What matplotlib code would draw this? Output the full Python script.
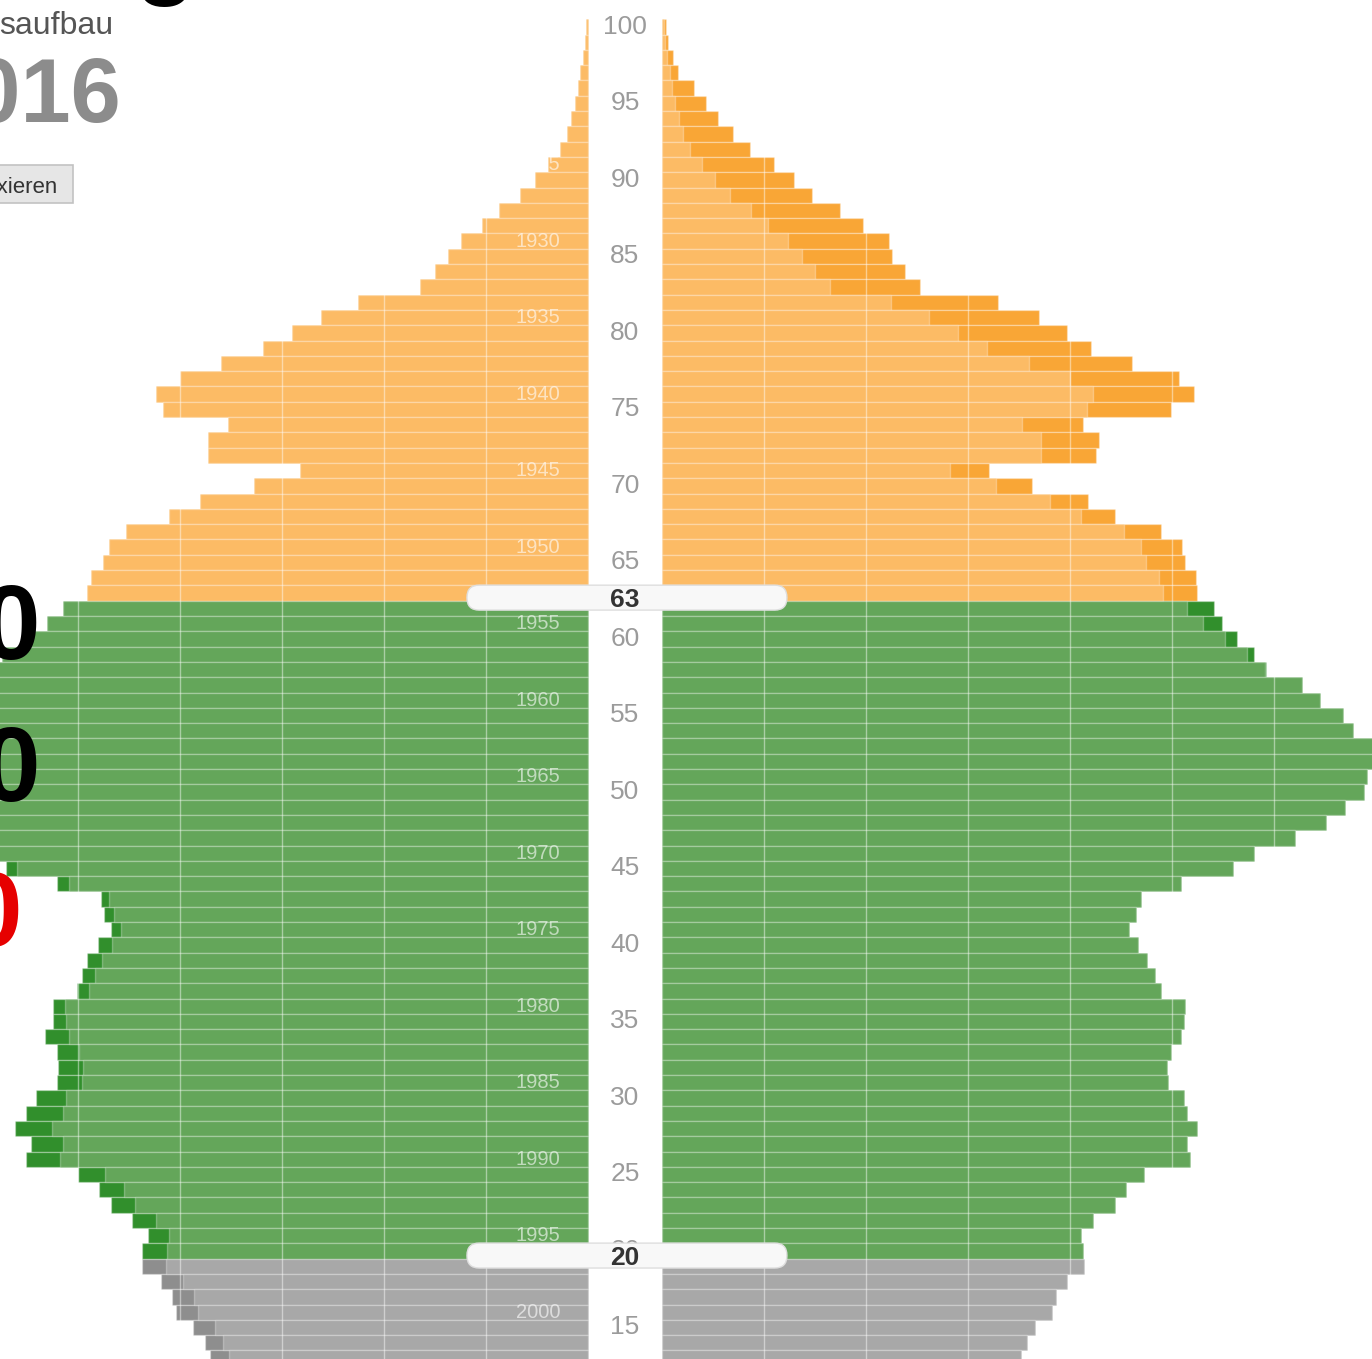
import matplotlib.pyplot as plt
import numpy as np
from matplotlib.patches import FancyBboxPatch, Rectangle

plt.rcParams['font.family'] = ['Liberation Sans', 'DejaVu Sans']

# Bevoelkerung 2016 in Tausend, Alter 100 .. 13
alter = np.arange(100, 12, -1)
maenner = [2, 3, 5, 8, 10, 13, 17, 21, 27, 39,
           52, 67, 87, 104, 124, 137, 150, 165, 225, 262,
           290, 319, 360, 400, 423, 417, 353, 372, 372, 282,
           327, 380, 411, 453, 470, 475, 487, 491, 515, 530,
           552, 574, 591, 637, 657, 681, 691, 711, 708, 701,
           696, 678, 659, 627, 588, 571, 521, 477, 474, 468,
           480, 491, 496, 501, 524, 524, 532, 521, 520, 521,
           541, 551, 562, 546, 551, 500, 479, 468, 447, 431,
           437, 437, 419, 408, 404, 387, 375, 371]
frauen = [4, 6, 11, 16, 31, 43, 55, 70, 86, 110,
          129, 147, 175, 197, 223, 226, 238, 253, 329, 370,
          397, 421, 461, 507, 522, 499, 413, 428, 426, 321,
          363, 418, 444, 489, 510, 513, 524, 525, 541, 549,
          564, 580, 592, 627, 645, 668, 677, 701, 698, 691,
          688, 670, 651, 621, 580, 560, 509, 470, 465, 458,
          467, 476, 483, 489, 513, 512, 509, 499, 495, 496,
          512, 515, 525, 515, 518, 473, 455, 444, 423, 411,
          413, 414, 397, 386, 382, 366, 358, 352]
jahr = 2016
grenze_alt = 63
grenze_jung = 20
alter_ticks = list(range(15, 101, 5))
jahrgaenge = list(range(1920, 2001, 5))
gitter = [100, 200, 300, 400, 500, 600]

maenner = np.array(maenner)
frauen = np.array(frauen)

# farben: (hell, dunkel)
orange = ('#fcbb65', '#f9a636')
gruen = ('#64a65a', '#318f2c')
grau = ('#a8a8a8', '#8e8e8e')

def farben(a):
    if a >= grenze_alt:
        return orange
    if a >= grenze_jung:
        return gruen
    return grau

hell = [farben(a)[0] for a in alter]
dunkel = [farben(a)[1] for a in alter]
basis = np.minimum(maenner, frauen)

mitte = 36.3  # halbe Breite der Mittelspalte
fig = plt.figure(figsize=(13.72, 13.59), dpi=100)
ax = fig.add_axes([0, 0, 1, 1])
ax.set_xlim(-612.7, 732.4)
ax.set_ylim(12.94, 101.76)
ax.axis('off')

kante = dict(edgecolor=(1, 1, 1, 0.28), linewidth=1.0)
# Maenner links
ax.barh(alter, -maenner, left=-mitte, height=1.0, color=dunkel, zorder=2, **kante)
ax.barh(alter, -basis, left=-mitte, height=1.0, color=hell, zorder=2, **kante)
# Frauen rechts
ax.barh(alter, frauen, left=mitte, height=1.0, color=dunkel, zorder=2, **kante)
ax.barh(alter, basis, left=mitte, height=1.0, color=hell, zorder=2, **kante)

for g in gitter:
    ax.axvline(-mitte - g, color='white', alpha=0.45, lw=1.0, zorder=2.5)
    ax.axvline(mitte + g, color='white', alpha=0.45, lw=1.0, zorder=2.5)

for a in alter_ticks:
    ax.text(0, a, str(a), ha='center', va='center', color='#9b9b9b',
            fontsize=19, zorder=4)

for j in jahrgaenge:
    ax.text(-85.3, jahr - j, str(j), ha='center', va='center', color='white',
            alpha=0.6, fontsize=14.5, zorder=4)

# Regler
for g in [grenze_alt, grenze_jung]:
    pill = FancyBboxPatch((-154.9, g - 0.3 - 0.815), 313.7, 1.63,
                          boxstyle='round,pad=0,rounding_size=12',
                          mutation_aspect=1.02 / 15.3,
                          facecolor='#f8f8f8', edgecolor='#dedede', lw=1.0, zorder=5)
    ax.add_patch(pill)
    ax.text(0, g - 0.48, str(g), ha='center', va='center', color='#333333',
            fontsize=19, fontweight='bold', zorder=6)

# Seitenreste am linken Rand
W, H = 1372.0, 1359.0
fig.text(165 / W, 1 + 14 / H, 'g', ha='center', va='baseline', fontsize=72,
         fontweight='bold', color='black')
fig.text(-1 / W, 1 - 34 / H, 'saufbau', ha='left', va='baseline', fontsize=23,
         color='#555555')
fig.text(122 / W, 1 - 122 / H, '2016', ha='right', va='baseline', fontsize=65,
         fontweight='bold', color='#8c8c8c')
fig.patches.append(Rectangle((-10 / W, 1 - 203 / H), 83 / W, 38 / H,
                             transform=fig.transFigure, facecolor='#e6e6e6',
                             edgecolor='#c2c2c2', lw=1.2))
fig.text(57 / W, 1 - 193 / H, 'Fixieren', ha='right', va='baseline', fontsize=16,
         color='#333333')
fig.text(40 / W, 1 - 659 / H, '0', ha='right', va='baseline', fontsize=76,
         fontweight='bold', color='black')
fig.text(40 / W, 1 - 801 / H, '0', ha='right', va='baseline', fontsize=76,
         fontweight='bold', color='black')
fig.text(23 / W, 1 - 946 / H, '0', ha='right', va='baseline', fontsize=76,
         fontweight='bold', color='#e60000')

fig.savefig('out.png', dpi=100)
